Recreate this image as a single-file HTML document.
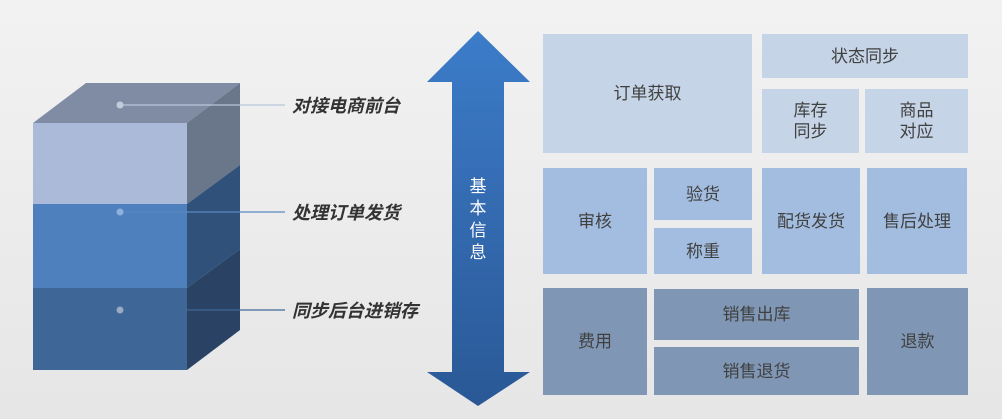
<!DOCTYPE html>
<html><head><meta charset="utf-8">
<style>
html,body{margin:0;padding:0;}
body{width:1002px;height:419px;overflow:hidden;background:linear-gradient(180deg,#f2f2f2,#e6e6e6);font-family:"Liberation Sans","Noto Sans CJK SC",sans-serif;position:relative;}
.b{position:absolute;display:flex;align-items:center;justify-content:center;text-align:center;color:#404040;font-size:17px;line-height:21px;}
.t{background:#c5d4e6}.m{background:#a3bde0}.d{background:#7f97b5}
.lab{position:absolute;font-style:italic;font-weight:bold;font-size:18px;color:#333;}
</style></head><body>
<svg width="1002" height="419" style="position:absolute;left:0;top:0">
<defs>
<linearGradient id="ag" x1="0" y1="0" x2="0" y2="1"><stop offset="0" stop-color="#3c7cc9"/><stop offset="1" stop-color="#2a5896"/></linearGradient>
</defs>
<polygon points="33,123 86,83 240,83 187,123" fill="#7f8ca3"/>
<polygon points="187,123 240,83 240,165 187,204" fill="#6a778a"/>
<polygon points="187,204 240,165 240,249 187,288" fill="#30527a"/>
<polygon points="187,288 240,249 240,330 187,370" fill="#2a4365"/>
<rect x="33" y="123" width="154" height="81" fill="#abbad8"/>
<rect x="33" y="204" width="154" height="84" fill="#4e80bd"/>
<rect x="33" y="288" width="154" height="82" fill="#3e6798"/>
<line x1="120" y1="105" x2="285" y2="105" stroke="#b8c6dc" stroke-width="1.2"/>
<line x1="120" y1="212" x2="285" y2="212" stroke="#5a88c2" stroke-width="1.2"/>
<line x1="120" y1="310" x2="285" y2="310" stroke="#3e6798" stroke-width="1.2"/>
<circle cx="120" cy="105" r="3.5" fill="#c2cbdc"/>
<circle cx="120" cy="212" r="3.5" fill="#8fb0dc"/>
<circle cx="120" cy="310" r="3.5" fill="#9aaac4"/>
<polygon points="478,31 530,82 504,82 504,372 530,372 478,406 427,372 452,372 452,82 427,82" fill="url(#ag)"/>
<text x="478" y="192" fill="#fff" font-size="17" text-anchor="middle" font-family="Liberation Sans,Noto Sans CJK SC,sans-serif">基</text>
<text x="478" y="214" fill="#fff" font-size="17" text-anchor="middle" font-family="Liberation Sans,Noto Sans CJK SC,sans-serif">本</text>
<text x="478" y="236" fill="#fff" font-size="17" text-anchor="middle" font-family="Liberation Sans,Noto Sans CJK SC,sans-serif">信</text>
<text x="478" y="258" fill="#fff" font-size="17" text-anchor="middle" font-family="Liberation Sans,Noto Sans CJK SC,sans-serif">息</text>
</svg>
<div class="lab" style="left:292px;top:92px">对接电商前台</div>
<div class="lab" style="left:292px;top:199px">处理订单发货</div>
<div class="lab" style="left:292px;top:297px">同步后台进销存</div>

<div class="b t" style="left:543px;top:34px;width:209px;height:119px">订单获取</div>
<div class="b t" style="left:762px;top:34px;width:206px;height:44px">状态同步</div>
<div class="b t" style="left:762px;top:89px;width:97px;height:64px">库存<br>同步</div>
<div class="b t" style="left:865px;top:89px;width:103px;height:64px">商品<br>对应</div>

<div class="b m" style="left:543px;top:168px;width:104px;height:106px">审核</div>
<div class="b m" style="left:654px;top:168px;width:98px;height:52px">验货</div>
<div class="b m" style="left:654px;top:228px;width:98px;height:46px">称重</div>
<div class="b m" style="left:762px;top:168px;width:98px;height:106px">配货发货</div>
<div class="b m" style="left:867px;top:168px;width:100px;height:106px">售后处理</div>

<div class="b d" style="left:543px;top:288px;width:104px;height:107px">费用</div>
<div class="b d" style="left:654px;top:289px;width:205px;height:51px">销售出库</div>
<div class="b d" style="left:654px;top:347px;width:205px;height:48px">销售退货</div>
<div class="b d" style="left:867px;top:288px;width:101px;height:107px">退款</div>
</body></html>
